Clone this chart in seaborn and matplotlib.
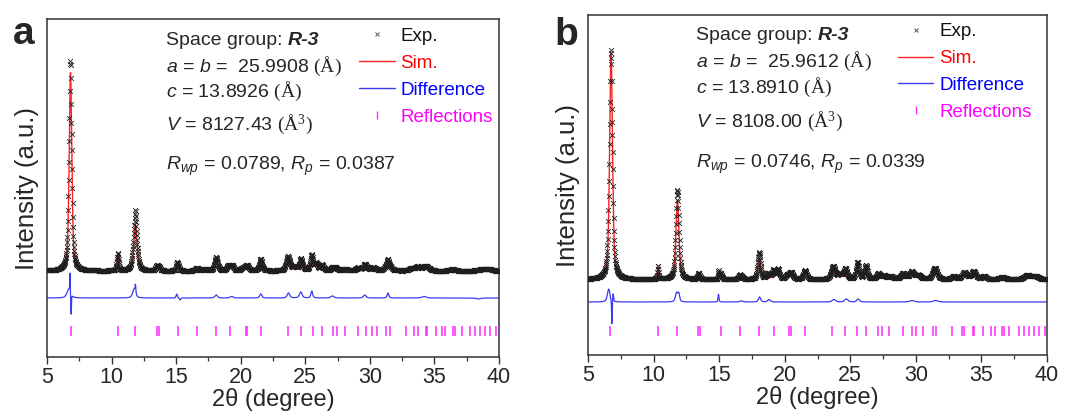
import numpy as np
import pandas as pd
import matplotlib
matplotlib.use("Agg")
import matplotlib.pyplot as plt
from matplotlib.lines import Line2D
from matplotlib.ticker import MultipleLocator
import seaborn as sns

# ---------------------------------------------------------------------------
# Rietveld refinement results for the two samples
# ---------------------------------------------------------------------------
scan_start, scan_stop, scan_step = 5.0, 40.0, 0.02

# sample (a): calculated profile peaks
a_peak_pos = [6.82, 10.48, 11.85, 13.5, 13.68, 15.15, 16.6, 17.2, 18.1, 19.05,
              19.35, 20.2, 20.5, 21.55, 23.65, 24.2, 24.7, 25.5, 25.85, 26.3,
              27.3, 28.1, 29.1, 29.7, 30.3, 31.4, 33.2, 33.7, 34.4, 36.4,
              38.5, 39.2]
a_peak_int = [200, 17, 47, 5, 4, 7, 3, 2, 11, 5,
              4, 3, 5, 8, 10, 4, 6, 9, 7, 6,
              3, 2, 3, 4, 3, 7, 2, 4, 4, 1.5,
              2, 2]
a_peak_hw = [0.12, 0.08, 0.16, 0.1, 0.1, 0.12, 0.15, 0.2, 0.15, 0.15,
             0.12, 0.2, 0.15, 0.15, 0.18, 0.2, 0.15, 0.15, 0.12, 0.15,
             0.2, 0.2, 0.2, 0.2, 0.2, 0.25, 0.2, 0.25, 0.25, 0.3,
             0.3, 0.3]
# sample (a): misfit of the observed scan against the calculated profile
a_misfit_pos = [6.70, 6.78, 6.87, 11.75, 11.85, 15.05, 15.3, 18.1, 19.3, 21.55,
                23.7, 24.65, 25.5, 27.1, 29.6, 31.4, 34.2, 38.4]
a_misfit_amp = [9, 18, -24, 9, 8, 4, -2, 3, 1.5, 4,
                5, 6, 7, 2, 3, 5, 1.5, -1]
a_misfit_hw = [0.18, 0.02, 0.025, 0.14, 0.03, 0.06, 0.06, 0.12, 0.15, 0.1,
               0.12, 0.12, 0.08, 0.15, 0.12, 0.08, 0.2, 0.2]
a_background_calc = 84.5
a_background_obs = 86.0
a_diff_level = 59.0
a_tick_level = 26.5
a_reflections = [6.82, 10.48, 11.83, 13.48, 13.66, 15.14, 16.61, 18.11, 19.2, 20.42,
                 20.52, 21.54, 23.65, 24.67, 25.56, 26.27, 27.16, 27.46, 28.05, 29.07,
                 29.7, 30.14, 30.59, 31.23, 31.53, 32.8, 33.44, 33.69, 34.33, 34.46,
                 35.09, 35.6, 35.85, 36.44, 36.56, 37.13, 37.76, 38.14, 38.52, 38.9,
                 39.29, 39.79]
a_ab, a_c, a_vol = "25.9908", "13.8926", "8127.43"
a_rwp, a_rp = "0.0789", "0.0387"

# sample (b): calculated profile peaks
b_peak_pos = [6.76, 10.33, 11.82, 13.45, 15.12, 16.6, 18.05, 18.7, 19.15, 19.5,
              20.2, 20.5, 21.55, 23.7, 24.2, 24.6, 25.55, 26.2, 27.15, 27.6,
              28.1, 29.05, 29.7, 30.2, 31.45, 32.9, 33.7, 34.4, 35.2, 36.6,
              38.5, 39.1]
b_peak_int = [228, 13, 80, 6, 6, 4, 22, 4, 9, 10,
              4, 7, 9, 11, 5, 8, 14, 14, 6, 4,
              3, 6, 6, 4, 10, 3, 7, 8, 3, 2,
              4, 3]
b_peak_hw = [0.13, 0.05, 0.14, 0.1, 0.1, 0.15, 0.13, 0.15, 0.12, 0.12,
             0.15, 0.15, 0.15, 0.18, 0.15, 0.15, 0.13, 0.13, 0.15, 0.15,
             0.2, 0.2, 0.2, 0.2, 0.2, 0.2, 0.2, 0.2, 0.2, 0.3,
             0.3, 0.3]
b_misfit_pos = [6.58, 6.82, 6.92, 11.75, 11.92, 14.95, 16.7, 18.08, 18.8, 23.75,
                24.7, 25.6, 29.7, 31.5]
b_misfit_amp = [13, -24, 8, 9, 8, 8, 1, 5, 2.5, 2.5,
                3, 3, 1.5, 1.5]
b_misfit_hw = [0.12, 0.025, 0.04, 0.1, 0.08, 0.04, 0.15, 0.1, 0.12, 0.15,
               0.15, 0.12, 0.2, 0.2]
b_background_calc = 74.0
b_background_obs = 75.5
b_diff_level = 53.0
b_tick_level = 24.0
b_reflections = [6.71, 10.33, 11.8, 13.38, 13.56, 15.14, 16.62, 18.04, 19.22, 20.36,
                 20.5, 21.54, 23.63, 24.58, 25.51, 26.22, 27.15, 27.4, 27.95, 29.03,
                 29.67, 30.04, 30.55, 31.3, 31.5, 32.77, 33.52, 33.7, 34.32, 34.45,
                 35.13, 35.71, 36.04, 36.54, 36.72, 37.09, 37.85, 38.23, 38.6, 38.98,
                 39.4, 39.83]
b_ab, b_c, b_vol = "25.9612", "13.8910", "8108.00"
b_rwp, b_rp = "0.0746", "0.0339"

# ---------------------------------------------------------------------------
EXP_COLOR = "#1e1e1e"
SIM_COLOR = "#ff2020"
DIFF_COLOR = "#3a3af2"
REF_COLOR = "#ff2bff"

sns.set_theme(style="ticks")
plt.rcParams["font.family"] = ["Liberation Sans", "DejaVu Sans"]
plt.rcParams["mathtext.fontset"] = "custom"
plt.rcParams["mathtext.rm"] = "Liberation Serif"
plt.rcParams["mathtext.it"] = "Liberation Sans:italic"
plt.rcParams["mathtext.bf"] = "Liberation Sans:bold"


def pseudo_voigt(x, pos, hw, eta=0.55):
    d = (x - pos) / hw
    return eta / (1.0 + d ** 2) + (1.0 - eta) * np.exp(-np.log(2.0) * d ** 2)


def profile(x, positions, amplitudes, widths):
    y = np.zeros_like(x)
    for p, a, w in zip(positions, amplitudes, widths):
        y += a * pseudo_voigt(x, p, w)
    return y


def build_frame(pos, inten, hw, m_pos, m_amp, m_hw, bg_calc, bg_obs, diff_level):
    tt = np.arange(scan_start, scan_stop + scan_step / 2, scan_step)
    calc = bg_calc + profile(tt, pos, inten, hw)
    obs = bg_obs + profile(tt, pos, inten, hw) + profile(tt, m_pos, m_amp, m_hw)
    diff = obs - calc + (diff_level - (bg_obs - bg_calc))
    return pd.DataFrame({"two_theta": tt, "obs": obs, "calc": calc, "diff": diff})


def draw_panel(ax, df, refl, tick_level, ylim, cell, rvals, text_x, text_y,
               leg_anchor):
    sns.lineplot(data=df, x="two_theta", y="calc", color=SIM_COLOR, lw=1.0,
                 errorbar=None, ax=ax, zorder=2)
    sns.scatterplot(data=df, x="two_theta", y="obs", marker="x", s=12,
                    color=EXP_COLOR, linewidth=0.6, ax=ax, zorder=3)
    sns.lineplot(data=df, x="two_theta", y="diff", color=DIFF_COLOR, lw=0.9,
                 errorbar=None, ax=ax, zorder=2)
    sns.scatterplot(x=refl, y=np.full(len(refl), tick_level), marker="|", s=45,
                    color=REF_COLOR, linewidth=1.1, ax=ax, zorder=2)

    ax.set_xlim(5, 40)
    ax.set_ylim(*ylim)
    ax.xaxis.set_major_locator(MultipleLocator(5))
    ax.xaxis.set_minor_locator(MultipleLocator(2.5))
    ax.set_yticks([])
    ax.tick_params(axis="x", which="major", direction="out", length=5, width=1.0,
                   labelsize=15.5, pad=2, color="#333333")
    ax.tick_params(axis="x", which="minor", direction="out", length=2.8, width=0.9,
                   color="#333333")
    for sp in ax.spines.values():
        sp.set_visible(True)
        sp.set_linewidth(1.1)
        sp.set_color("#333333")
    ax.set_xlabel("2θ (degree)", fontsize=17, labelpad=0)
    ax.set_ylabel("Intensity (a.u.)", fontsize=18.5, labelpad=6)

    ab, c, vol = cell
    rwp, rp = rvals
    fs = 14
    t0 = ax.text(text_x, text_y[0], "Space group:", transform=ax.transAxes,
                 fontsize=fs, va="baseline", ha="left")
    ax.annotate("R-3", xy=(1, 0), xycoords=t0, xytext=(4, 0),
                textcoords="offset points", fontsize=fs, fontweight="bold",
                fontstyle="italic", va="bottom", ha="left")
    ax.text(text_x, text_y[1], r"$\it{a}$ = $\it{b}$ =  " + ab + r" $\mathrm{(Å)}$",
            transform=ax.transAxes, fontsize=fs, va="baseline", ha="left")
    ax.text(text_x, text_y[2], r"$\it{c}$ = " + c + r" $\mathrm{(Å)}$",
            transform=ax.transAxes, fontsize=fs, va="baseline", ha="left")
    ax.text(text_x, text_y[3], r"$\it{V}$ = " + vol + r" $\mathrm{(Å^{3})}$",
            transform=ax.transAxes, fontsize=fs, va="baseline", ha="left")
    ax.text(text_x, text_y[4],
            r"$\it{R}_{\it{wp}}$ = " + rwp + r", $\it{R}_{\it{p}}$ = " + rp,
            transform=ax.transAxes, fontsize=fs, va="baseline", ha="left")

    handles = [
        Line2D([], [], ls="none", marker="x", ms=3.5, mew=0.7, color="#555555"),
        Line2D([], [], color=SIM_COLOR, lw=1.0),
        Line2D([], [], color=DIFF_COLOR, lw=1.0),
        Line2D([], [], ls="none", marker="|", ms=6, mew=1.0, color=REF_COLOR),
    ]
    labels = ["Exp.", "Sim.", "Difference", "Reflections"]
    leg = ax.legend(handles, labels, loc="upper left", bbox_to_anchor=leg_anchor,
                    frameon=False, fontsize=13.5, handlelength=1.9,
                    handletextpad=0.3, labelspacing=0.52, borderpad=0,
                    borderaxespad=0)
    for txt, col in zip(leg.get_texts(), ["#111111", "#ff0000", "#0000ff", "#ff00ff"]):
        txt.set_color(col)


fig = plt.figure(figsize=(10.67, 4.19), dpi=100)
ax_a = fig.add_axes([47 / 1067, 1 - 357 / 419, 452 / 1067, 338 / 419])
ax_b = fig.add_axes([588 / 1067, 1 - 355 / 419, 459 / 1067, 340 / 419])

df_a = build_frame(a_peak_pos, a_peak_int, a_peak_hw, a_misfit_pos, a_misfit_amp,
                   a_misfit_hw, a_background_calc, a_background_obs, a_diff_level)
df_b = build_frame(b_peak_pos, b_peak_int, b_peak_hw, b_misfit_pos, b_misfit_amp,
                   b_misfit_hw, b_background_calc, b_background_obs, b_diff_level)

draw_panel(ax_a, df_a, a_reflections, a_tick_level, (0, 338), (a_ab, a_c, a_vol),
           (a_rwp, a_rp), 0.263, [0.923, 0.844, 0.770, 0.672, 0.553],
           (0.690, 0.974))
draw_panel(ax_b, df_b, b_reflections, b_tick_level, (0, 340), (b_ab, b_c, b_vol),
           (b_rwp, b_rp), 0.235, [0.926, 0.848, 0.770, 0.671, 0.549],
           (0.675, 0.976))

fig.text(24 / 1067, 1 - 44 / 419, "a", fontsize=28, fontweight="bold",
         ha="center", va="baseline")
fig.text(566 / 1067, 1 - 45 / 419, "b", fontsize=28, fontweight="bold",
         ha="center", va="baseline")

fig.savefig("out.png", dpi=100)
